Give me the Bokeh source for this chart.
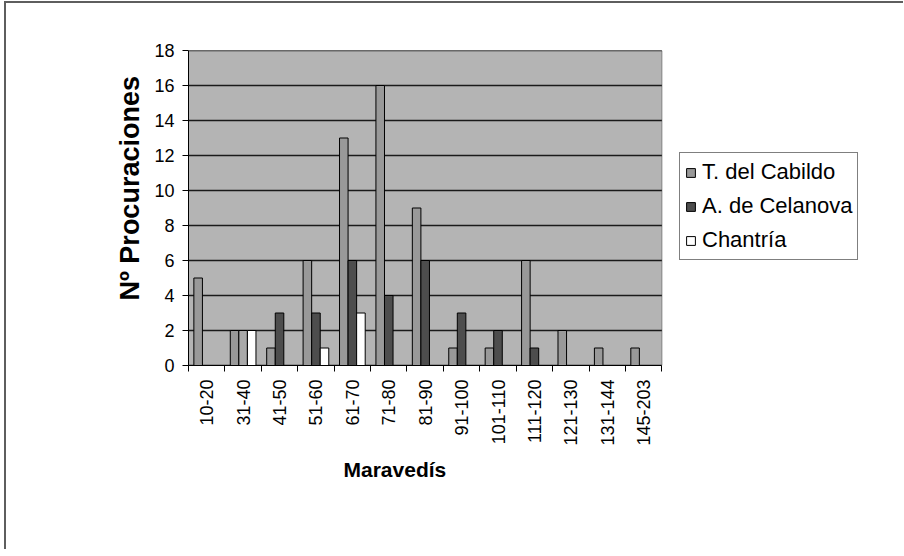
import numpy as np
from math import pi
from bokeh.plotting import figure
from bokeh.models import (Range1d, FixedTicker, CustomJSTickFormatter, Legend,
                          LegendItem, Title)
from bokeh.embed import file_html
from bokeh.resources import INLINE

categories = ["10-20", "31-40", "41-50", "51-60", "61-70", "71-80", "81-90",
              "91-100", "101-110", "111-120", "121-130", "131-144", "145-203"]
cabildo = [5, 2, 1, 6, 13, 16, 9, 1, 1, 6, 2, 1, 1]
celanova = [0, 2, 3, 3, 6, 4, 6, 3, 2, 1, 0, 0, 0]
chantria = [0, 2, 0, 1, 3, 0, 0, 0, 0, 0, 0, 0, 0]
series_names = ["T. del Cabildo", "A. de Celanova", "Chantría"]
y_ticks = [0, 2, 4, 6, 8, 10, 12, 14, 16, 18]
x_title = "Maravedís"
y_title = "Nº Procuraciones"

FONT = "Liberation Sans"
n = len(categories)
y_max = y_ticks[-1]
centers = np.arange(n) + 0.5
bw = 0.235

# plot area occupies 472 px of a 696 px frame; the rest hosts the legend
x_end = n * 696 / 472

celanova_colors = ["#4d4d4d"] * n
celanova_colors[1] = "#a9a9a9"

p = figure(width=897, height=546, output_backend="svg", toolbar_location=None,
           x_range=Range1d(0, x_end), y_range=Range1d(0, y_max),
           min_border_left=182, min_border_right=19,
           min_border_top=47, min_border_bottom=186)
p.styles = {"border-top": "2px solid #5e5e5e", "border-left": "2px solid #5e5e5e",
            "margin-left": "4px", "margin-top": "1px",
            "box-sizing": "content-box"}

p.background_fill_color = "white"
p.border_fill_color = "white"
p.outline_line_color = None
p.xgrid.visible = False
p.ygrid.visible = False

# plot-area background and grid lines
p.quad(left=0, right=n, bottom=0, top=y_max, fill_color="#b4b4b4",
       line_color="#808080", line_width=1)
p.segment(x0=[0] * len(y_ticks), x1=[n] * len(y_ticks), y0=y_ticks, y1=y_ticks,
          line_color="#1a1a1a", line_width=1.5)

r1 = p.vbar(x=centers - bw, top=cabildo, width=bw, fill_color="#999999",
            line_color="black", line_width=1)
r2 = p.vbar(x=centers, top=celanova, width=bw, fill_color=celanova_colors,
            line_color="black", line_width=1)
r3 = p.vbar(x=centers + bw, top=chantria, width=bw, fill_color="white",
            line_color="black", line_width=1)

# legend swatch for the second series (uniform colour), kept off-screen
l2 = p.vbar(x=[-5], top=[0], width=bw, fill_color="#4d4d4d", line_color="black",
            line_width=1)

legend = Legend(items=[LegendItem(label=series_names[0], renderers=[r1]),
                       LegendItem(label=series_names[1], renderers=[l2]),
                       LegendItem(label=series_names[2], renderers=[r3])],
                location=(491, 105))
legend.label_text_font = FONT
legend.label_text_font_size = "22px"
legend.label_text_color = "black"
legend.glyph_width = 11
legend.glyph_height = 11
legend.label_height = 28
legend.spacing = 6
legend.padding = 5
legend.margin = 0
legend.label_standoff = 6
legend.border_line_color = "black"
legend.border_line_width = 1.5
legend.background_fill_color = "white"
legend.background_fill_alpha = 1
p.add_layout(legend)

p.yaxis.ticker = FixedTicker(ticks=y_ticks)
p.yaxis.major_tick_out = 6
p.yaxis.major_tick_in = 0
p.yaxis.minor_tick_line_color = None
p.yaxis.major_label_text_font = FONT
p.yaxis.major_label_text_font_size = "18px"
p.yaxis.major_label_text_color = "black"
p.yaxis.major_label_standoff = 8
p.yaxis.axis_line_color = "black"
p.yaxis.major_tick_line_color = "black"

p.xaxis.bounds = (0, n)
p.xaxis.ticker = FixedTicker(ticks=list(centers), minor_ticks=list(range(n + 1)))
p.xaxis.formatter = CustomJSTickFormatter(args=dict(labels=categories),
                                          code="return labels[Math.floor(tick)] || '';")
p.xaxis.major_tick_line_color = None
p.xaxis.major_tick_out = 6
p.xaxis.major_tick_in = 0
p.xaxis.minor_tick_out = 6
p.xaxis.minor_tick_in = 0
p.xaxis.minor_tick_line_color = "black"
p.xaxis.major_label_orientation = pi / 2
p.xaxis.major_label_text_font = FONT
p.xaxis.major_label_text_font_size = "18px"
p.xaxis.major_label_text_color = "black"
p.xaxis.major_label_standoff = 8
p.xaxis.axis_line_color = "black"

ytitle = Title(text=y_title, align="left", offset=65, standoff=14,
               text_font=FONT, text_font_size="27px", text_font_style="bold",
               text_color="black")
xtitle = Title(text=x_title, align="left", offset=155, standoff=14,
               text_font=FONT, text_font_size="21px", text_font_style="bold",
               text_color="black")
p.add_layout(ytitle, "left")
p.add_layout(xtitle, "below")

open("out.html", "w").write(file_html(p, INLINE))
